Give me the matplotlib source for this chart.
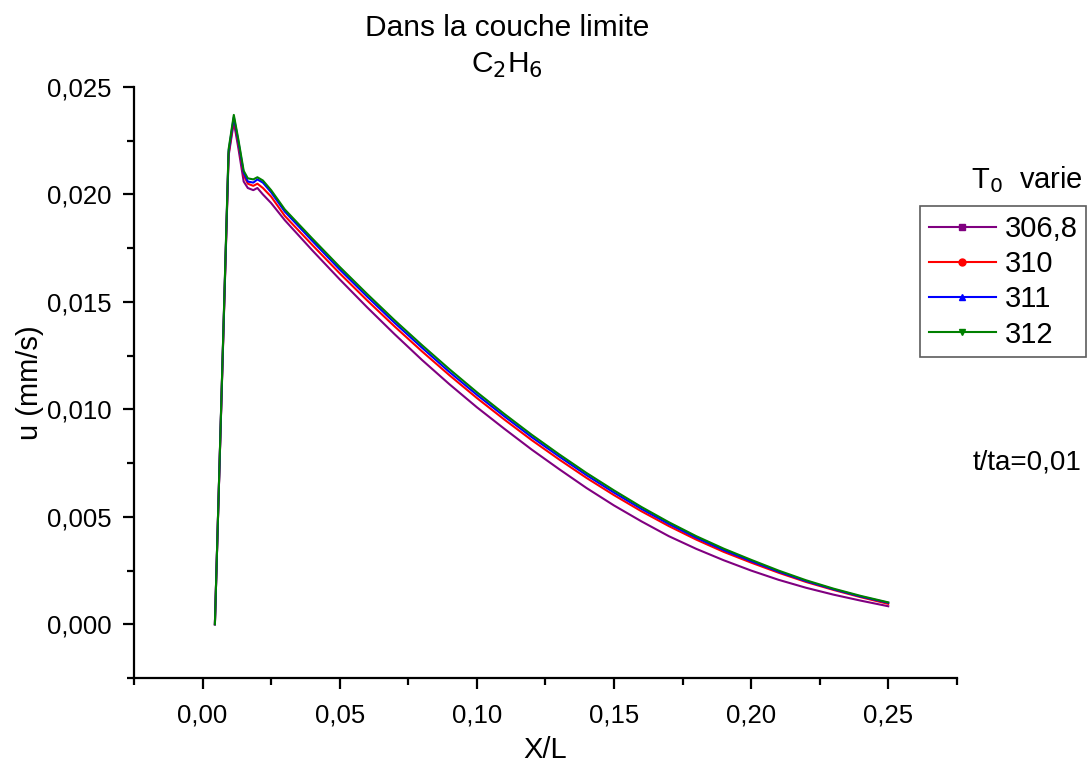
import matplotlib.pyplot as plt
from matplotlib.lines import Line2D
from matplotlib.ticker import FuncFormatter, MultipleLocator

plt.rcParams["font.family"] = ["Liberation Sans", "DejaVu Sans"]

# ---- data ----
x = [0.0045, 0.0095, 0.0114, 0.013, 0.015, 0.0165, 0.0185, 0.020, 0.022, 0.025,
     0.03, 0.04, 0.05, 0.06, 0.07, 0.08, 0.09, 0.10, 0.11, 0.12, 0.13, 0.14,
     0.15, 0.16, 0.17, 0.18, 0.19, 0.20, 0.21, 0.22, 0.23, 0.24, 0.25]

u_3068 = [0, 0.0218, 0.02337, 0.0222, 0.0206, 0.0203, 0.0202, 0.0203, 0.0200, 0.0196,
          0.0188, 0.0174, 0.01605, 0.01475, 0.0135, 0.0123, 0.01117, 0.0101, 0.0091,
          0.00813, 0.00722, 0.00634, 0.00553, 0.00479, 0.0041, 0.00351, 0.00298,
          0.0025, 0.00207, 0.0017, 0.00138, 0.0011, 0.00084]

u_310 = [0, 0.0219, 0.0235, 0.0224, 0.0209, 0.0205, 0.0204, 0.0205, 0.0203, 0.0199,
         0.0190, 0.01765, 0.01633, 0.01507, 0.01386, 0.0127, 0.01159, 0.01053, 0.00953,
         0.00857, 0.00767, 0.00681, 0.00601, 0.00526, 0.00457, 0.00394, 0.00337,
         0.00287, 0.0024, 0.00197, 0.0016, 0.00126, 0.00095]

u_311 = [0, 0.0220, 0.0236, 0.0225, 0.0210, 0.0206, 0.02055, 0.0207, 0.02055, 0.0201,
         0.0192, 0.01784, 0.01651, 0.01525, 0.01403, 0.01287, 0.01174, 0.01068, 0.00968,
         0.00871, 0.00781, 0.00694, 0.00613, 0.00537, 0.00467, 0.00403, 0.00345,
         0.00294, 0.00245, 0.00201, 0.00163, 0.00129, 0.001]

u_312 = [0, 0.0221, 0.0237, 0.0226, 0.0211, 0.02075, 0.0207, 0.0208, 0.02065, 0.0202,
         0.0193, 0.01795, 0.01663, 0.01537, 0.01415, 0.01299, 0.01187, 0.0108, 0.00979,
         0.00882, 0.00791, 0.00704, 0.00623, 0.00546, 0.00475, 0.0041, 0.00352,
         0.003, 0.0025, 0.00205, 0.00166, 0.00132, 0.00102]

series = [
    ("306,8", u_3068, "#800080", "s"),
    ("310", u_310, "#ff0000", "o"),
    ("311", u_311, "#0000ff", "^"),
    ("312", u_312, "#008000", "v"),
]

# ---- figure ----
fig = plt.figure(figsize=(10.91, 7.65), dpi=100)
ax = fig.add_axes([0.1228, 0.1137, 0.7542, 0.7726])

for nom, u, cor, mk in series:
    ax.plot(x, u, color=cor, linewidth=1.5)

ax.set_xlim(-0.025, 0.275)
ax.set_ylim(-0.0025, 0.025)

# only left and bottom axes, Origin style
ax.spines["top"].set_visible(False)
ax.spines["right"].set_visible(False)
for s in ("left", "bottom"):
    ax.spines[s].set_linewidth(1.6)

ax.xaxis.set_major_locator(MultipleLocator(0.05))
ax.xaxis.set_minor_locator(MultipleLocator(0.025))
ax.yaxis.set_major_locator(MultipleLocator(0.005))
ax.yaxis.set_minor_locator(MultipleLocator(0.0025))

# decimal comma
virgula_x = FuncFormatter(lambda v, p: f"{v:.2f}".replace(".", ","))
virgula_y = FuncFormatter(lambda v, p: f"{v:.3f}".replace(".", ","))
ax.xaxis.set_major_formatter(virgula_x)
ax.yaxis.set_major_formatter(virgula_y)

ax.tick_params(which="major", direction="out", length=8, width=1.6,
               labelsize=18.5, pad=8)
ax.tick_params(which="minor", direction="out", length=5, width=1.6)
ax.tick_params(axis="x", which="major", pad=10)

ax.set_xlabel("X/L", fontsize=21)
ax.set_ylabel("u (mm/s)", fontsize=21)
ax.xaxis.set_label_coords(0.5, -(750 - 678) / 591)
ax.yaxis.set_label_coords(-(134 - 30) / 823, 0.5)
ax.xaxis.label.set_va("center")
ax.yaxis.label.set_va("center")

fig.text(0.465, 0.963, "Dans la couche limite", ha="center", va="center",
         fontsize=21.5)
fig.text(0.465, 0.915, "C$_2$H$_6$", ha="center", va="center", fontsize=21.5)

# legend: markers only in the key
handles = [Line2D([], [], color=cor, marker=mk, markersize=5, linewidth=1.5)
           for nom, u, cor, mk in series]
labels = [nom for nom, u, cor, mk in series]
leg = fig.legend(handles, labels, loc="upper left",
                 bbox_to_anchor=(920 / 1091, 1 - 206 / 765),
                 fontsize=21, frameon=True, fancybox=False,
                 handlelength=2.3, handletextpad=0.3, labelspacing=0.25,
                 borderpad=0.3, borderaxespad=0, numpoints=1)
leg.get_frame().set_edgecolor("#333333")
leg.get_frame().set_linewidth(1.2)

fig.text(0.941, 0.765, "T$_0$  varie", ha="center", va="center", fontsize=21)
fig.text(0.941, 0.396, "t/ta=0,01", ha="center", va="center", fontsize=20)

fig.savefig("out.png", dpi=100)
